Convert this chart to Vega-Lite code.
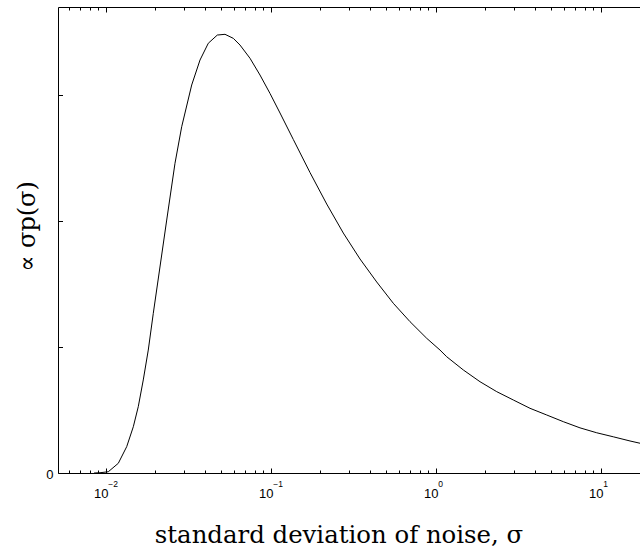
{
  "$schema": "https://vega.github.io/schema/vega-lite/v6.json",
  "autosize": "none",
  "padding": {"left": 58, "top": 7, "right": 0, "bottom": 76},
  "width": 582,
  "height": 466,
  "background": "white",
  "config": {
    "view": {"stroke": null},
    "axis": {
      "grid": false,
      "domainColor": "black",
      "domainWidth": 1,
      "tickColor": "black",
      "tickWidth": 1,
      "labelColor": "black",
      "titleColor": "black",
      "labelFont": "Liberation Sans",
      "titleFont": "DejaVu Serif",
      "titleFontWeight": "normal",
      "labelFlush": false
    }
  },
  "data": {
    "values": [
      {"s": 0.0085, "v": 0.0},
      {"s": 0.009236, "v": 0.002},
      {"s": 0.01037, "v": 0.010},
      {"s": 0.011925, "v": 0.077},
      {"s": 0.013409, "v": 0.209},
      {"s": 0.014703, "v": 0.367},
      {"s": 0.015755, "v": 0.526},
      {"s": 0.016895, "v": 0.738},
      {"s": 0.018117, "v": 0.975},
      {"s": 0.019428, "v": 1.266},
      {"s": 0.02343, "v": 2.006},
      {"s": 0.026303, "v": 2.456},
      {"s": 0.028879, "v": 2.746},
      {"s": 0.033204, "v": 3.077},
      {"s": 0.037284, "v": 3.275},
      {"s": 0.041856, "v": 3.408},
      {"s": 0.047463, "v": 3.473},
      {"s": 0.052845, "v": 3.479},
      {"s": 0.059338, "v": 3.447},
      {"s": 0.065146, "v": 3.394},
      {"s": 0.074901, "v": 3.289},
      {"s": 0.086125, "v": 3.156},
      {"s": 0.099037, "v": 3.010},
      {"s": 0.11386, "v": 2.855},
      {"s": 0.13709, "v": 2.645},
      {"s": 0.17302, "v": 2.383},
      {"s": 0.21848, "v": 2.133},
      {"s": 0.27542, "v": 1.903},
      {"s": 0.34776, "v": 1.697},
      {"s": 0.43893, "v": 1.515},
      {"s": 0.55335, "v": 1.346},
      {"s": 0.69873, "v": 1.200},
      {"s": 0.88222, "v": 1.068},
      {"s": 1.0619, "v": 0.975},
      {"s": 1.1659, "v": 0.922},
      {"s": 1.4702, "v": 0.817},
      {"s": 1.8556, "v": 0.724},
      {"s": 2.3428, "v": 0.645},
      {"s": 2.9532, "v": 0.579},
      {"s": 3.7281, "v": 0.513},
      {"s": 4.7074, "v": 0.460},
      {"s": 5.9339, "v": 0.407},
      {"s": 7.4887, "v": 0.358},
      {"s": 9.4577, "v": 0.319},
      {"s": 11.925, "v": 0.287},
      {"s": 15.05, "v": 0.254},
      {"s": 17.3, "v": 0.236}
    ]
  },
  "resolve": {"axis": {"x": "independent", "y": "independent"}},
  "layer": [
    {
      "mark": {"type": "line", "color": "black", "strokeWidth": 1, "clip": true},
      "encoding": {
        "x": {"field": "s", "type": "quantitative",
          "scale": {"type": "log", "domain": [0.00514, 17.3], "nice": false},
          "axis": {"orient": "bottom", "values": [0.01, 0.1, 1, 10], "tickSize": -5, "labels": false, "domain": true, "title": null}},
        "y": {"field": "v", "type": "quantitative",
          "scale": {"domain": [0, 3.6955], "nice": false},
          "axis": {"orient": "left", "values": [0, 1, 2, 3], "tickSize": -4.5, "labels": false, "domain": true, "title": null}}
      }
    },
    {
      "mark": {"type": "line", "opacity": 0},
      "encoding": {
        "x": {"field": "s", "type": "quantitative",
          "axis": {"orient": "bottom", "values": [0.006, 0.007, 0.008, 0.009, 0.02, 0.03, 0.04, 0.05, 0.06, 0.07, 0.08, 0.09, 0.2, 0.3, 0.4, 0.5, 0.6, 0.7, 0.8, 0.9, 2, 3, 4, 5, 6, 7, 8, 9], "tickSize": -3, "labels": false, "domain": false, "title": null}},
        "y": {"field": "v", "type": "quantitative", "axis": null}
      }
    },
    {
      "mark": {"type": "line", "opacity": 0},
      "encoding": {
        "x": {"field": "s", "type": "quantitative",
          "axis": {"orient": "bottom", "values": [0.01, 0.1, 1, 10], "ticks": false, "domain": false,
            "labelExpr": "'10'", "labelFontSize": 13, "labelOffset": -5, "labelBaseline": "alphabetic", "labelPadding": 24,
            "title": "standard deviation of noise, σ", "titleFontSize": 24.4, "titleX": 280.5, "titleY": 69, "titleBaseline": "alphabetic", "titleAlign": "center"}},
        "y": {"field": "v", "type": "quantitative",
          "axis": {"orient": "left", "values": [0], "ticks": false, "domain": false, "labelFontSize": 13, "labelPadding": 5, "labelOffset": 1.5,
            "title": "∝ σp(σ)", "titleFontSize": 24, "titleX": -24, "titleY": 219, "titleAngle": 270, "titleBaseline": "alphabetic", "titleAlign": "center"}}
      }
    },
    {
      "mark": {"type": "line", "opacity": 0},
      "encoding": {
        "x": {"field": "s", "type": "quantitative",
          "axis": {"orient": "bottom", "values": [0.01, 0.1, 1, 10], "ticks": false, "domain": false,
            "labelExpr": "datum.value < 0.05 ? '−2' : datum.value < 0.5 ? '−1' : datum.value < 5 ? '0' : '1'",
            "labelFontSize": 8.5, "labelAlign": "left", "labelOffset": 2, "labelBaseline": "alphabetic", "labelPadding": 13.7, "title": null}},
        "y": {"field": "v", "type": "quantitative", "axis": null}
      }
    },
    {
      "mark": {"type": "line", "opacity": 0},
      "encoding": {
        "x": {"field": "s", "type": "quantitative",
          "axis": {"orient": "top", "values": [0.01, 0.1, 1, 10], "tickSize": -5, "labels": false, "domain": true, "title": null}},
        "y": {"field": "v", "type": "quantitative", "axis": null}
      }
    },
    {
      "mark": {"type": "line", "opacity": 0},
      "encoding": {
        "x": {"field": "s", "type": "quantitative",
          "axis": {"orient": "top", "values": [0.006, 0.007, 0.008, 0.009, 0.02, 0.03, 0.04, 0.05, 0.06, 0.07, 0.08, 0.09, 0.2, 0.3, 0.4, 0.5, 0.6, 0.7, 0.8, 0.9, 2, 3, 4, 5, 6, 7, 8, 9], "tickSize": -3, "labels": false, "domain": false, "title": null}},
        "y": {"field": "v", "type": "quantitative", "axis": null}
      }
    }
  ]
}
